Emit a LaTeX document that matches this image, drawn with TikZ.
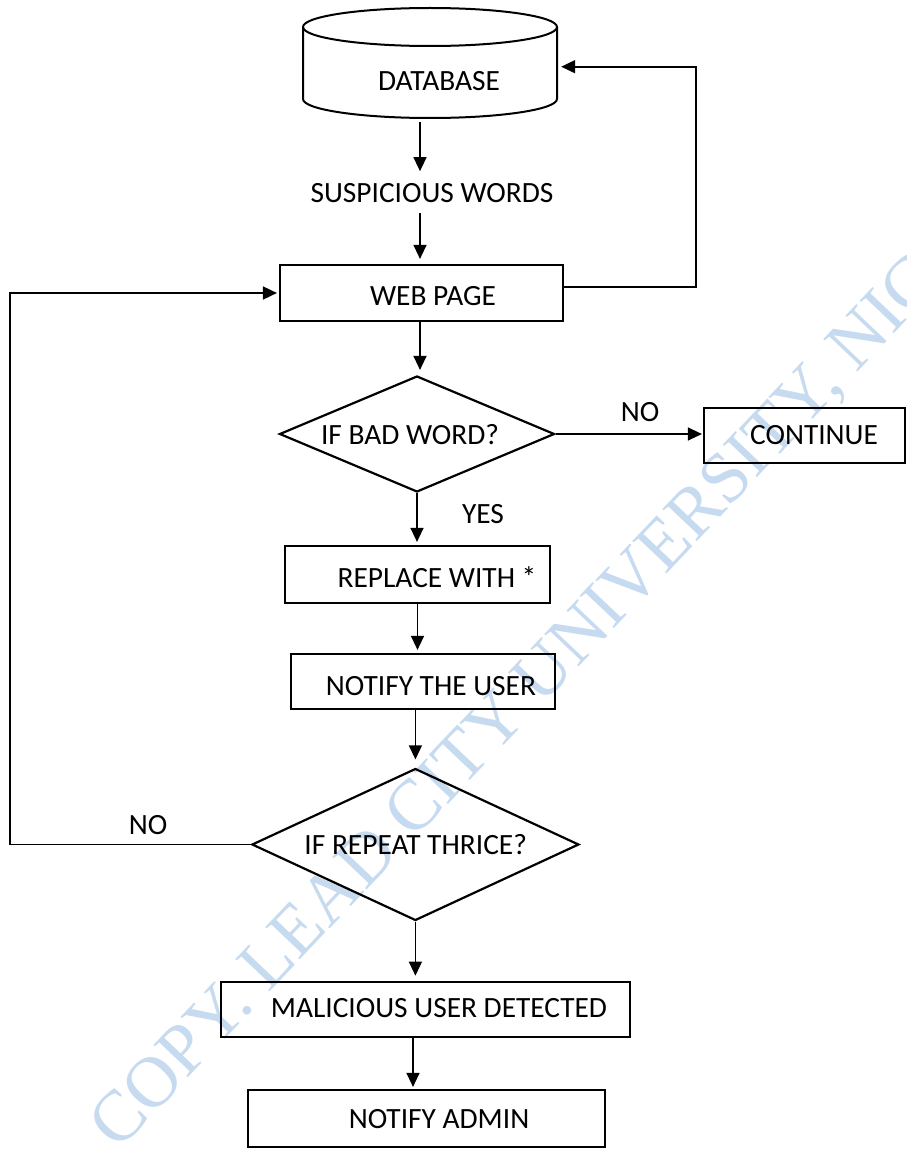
\documentclass[tikz,border=0pt]{standalone}
\usepackage{fontspec}
\setmainfont{Carlito}
\newfontfamily\wmfont{Liberation Serif}
\usetikzlibrary{arrows.meta,shapes.geometric}
\definecolor{wmblue}{RGB}{198,218,240}

\begin{document}
\begin{tikzpicture}[x=1pt,y=-1pt,
  lbl/.style={font=\fontsize{29.4}{35}\selectfont, inner sep=0pt},
  procbox/.style={draw, line width=2.2pt, inner sep=0pt},
  decision/.style={diamond, draw, line width=2.2pt, inner sep=0pt},
  arr/.style={line width=1.3pt, -{Triangle[length=14pt,width=13pt]}},
  loopline/.style={line width=1.8pt, -{Triangle[length=14pt,width=13pt]}},
  wm/.style={font=\wmfont\fontsize{72}{84}\selectfont, text=wmblue,
    rotate=46.5, anchor=base west, inner sep=0pt}
]
\useasboundingbox[fill=white] (0,0) rectangle (906,1153);

% faint watermark behind the chart
\begin{scope}
  \clip (0,0) rectangle (906,1153);
  \node[wm] (mark) at (118,1152) {COPY. LEAD CITY UNIVERSITY, NIGERIA};
\end{scope}

% database cylinder
\node[minimum width=254pt, minimum height=111pt, inner sep=0pt] (db) at (430,63) {};
\draw[line width=2pt] (303,27) -- (303,99)
  arc[start angle=180, end angle=0, x radius=127, y radius=19] -- (557,27);
\draw[line width=2pt] (430,27) ellipse [x radius=127, y radius=19];
\node[lbl] (dbt) at (439,81) {DATABASE};

\node[lbl] (sus) at (432,193) {SUSPICIOUS WORDS};

% process boxes
\node[procbox, minimum width=283pt, minimum height=56pt] (web) at (421.5,293) {};
\node[lbl] (webt) at (433,296) {WEB PAGE};

\node[decision, minimum width=275pt, minimum height=116pt] (d1) at (417,434) {};
\node[lbl] (d1t) at (410,435) {IF BAD WORD?};

\node[procbox, minimum width=201pt, minimum height=55pt] (cont) at (804.5,435.5) {};
\node[lbl] (contt) at (814,435) {CONTINUE};

\node[procbox, minimum width=265pt, minimum height=57pt] (rep) at (417.5,574.5) {};
\node[lbl] (rept) at (437,577) {REPLACE WITH *};

\node[procbox, minimum width=264pt, minimum height=55pt] (nuser) at (423,681.5) {};
\node[lbl] (nusert) at (431,686) {NOTIFY THE USER};

\node[decision, minimum width=327pt, minimum height=152pt] (d2) at (415.4,844.5) {};
\node[lbl] (d2t) at (415.7,845) {IF REPEAT THRICE?};

\node[procbox, minimum width=409pt, minimum height=55pt] (mal) at (425.5,1009.3) {};
\node[lbl] (malt) at (439,1008) {MALICIOUS USER DETECTED};

\node[procbox, minimum width=357pt, minimum height=57pt] (adm) at (426.5,1118.5) {};
\node[lbl] (admt) at (439,1119) {NOTIFY ADMIN};

% branch labels
\node[lbl] (nob) at (640,412) {NO};
\node[lbl] (yes) at (483,514) {YES};
\node[lbl] (nol) at (148,825) {NO};

% guide columns and loop corners
\coordinate (c1) at (420,0);
\coordinate (c3) at (413,0);
\coordinate (rt) at (696,287);
\coordinate (rtop) at (696,66.7);
\coordinate (lb) at (10,844.5);
\coordinate (lt) at (10,293);

% main flow
\draw[arr, shorten <=3.5pt, shorten >=12pt] (db.south -| c1) -- (sus.north -| c1);
\draw[arr, shorten <=10pt, shorten >=5pt] (sus.south -| c1) -- (web.north -| c1);
\draw[arr, shorten >=5pt] (web.south -| c1) -- (d1.north -| c1);
\draw[arr, shorten >=1pt] (d1.east) -- (d1.east -| cont.west);
\draw[arr, shorten >=3pt] (d1.south) -- (rep.north -| d1.south);
\draw[arr, shorten >=3pt] (rep.south) -- (nuser.north -| rep.south);
\draw[arr, shorten >=8pt] (nuser.south -| d2.north) -- (d2.north);
\draw[arr, shorten >=5pt] (d2.south) -- (mal.north -| d2.south);
\draw[arr, shorten >=2pt] (mal.south -| c3) -- (adm.north -| c3);

% feedback loops
\draw[loopline, shorten >=2pt] (d2.west) -- (lb) -- (lt) -- (web.west |- lt);
\draw[loopline, shorten >=4pt] (web.east |- rt) -- (rt) -- (rtop) -- (db.east |- rtop);
\end{tikzpicture}
\end{document}
